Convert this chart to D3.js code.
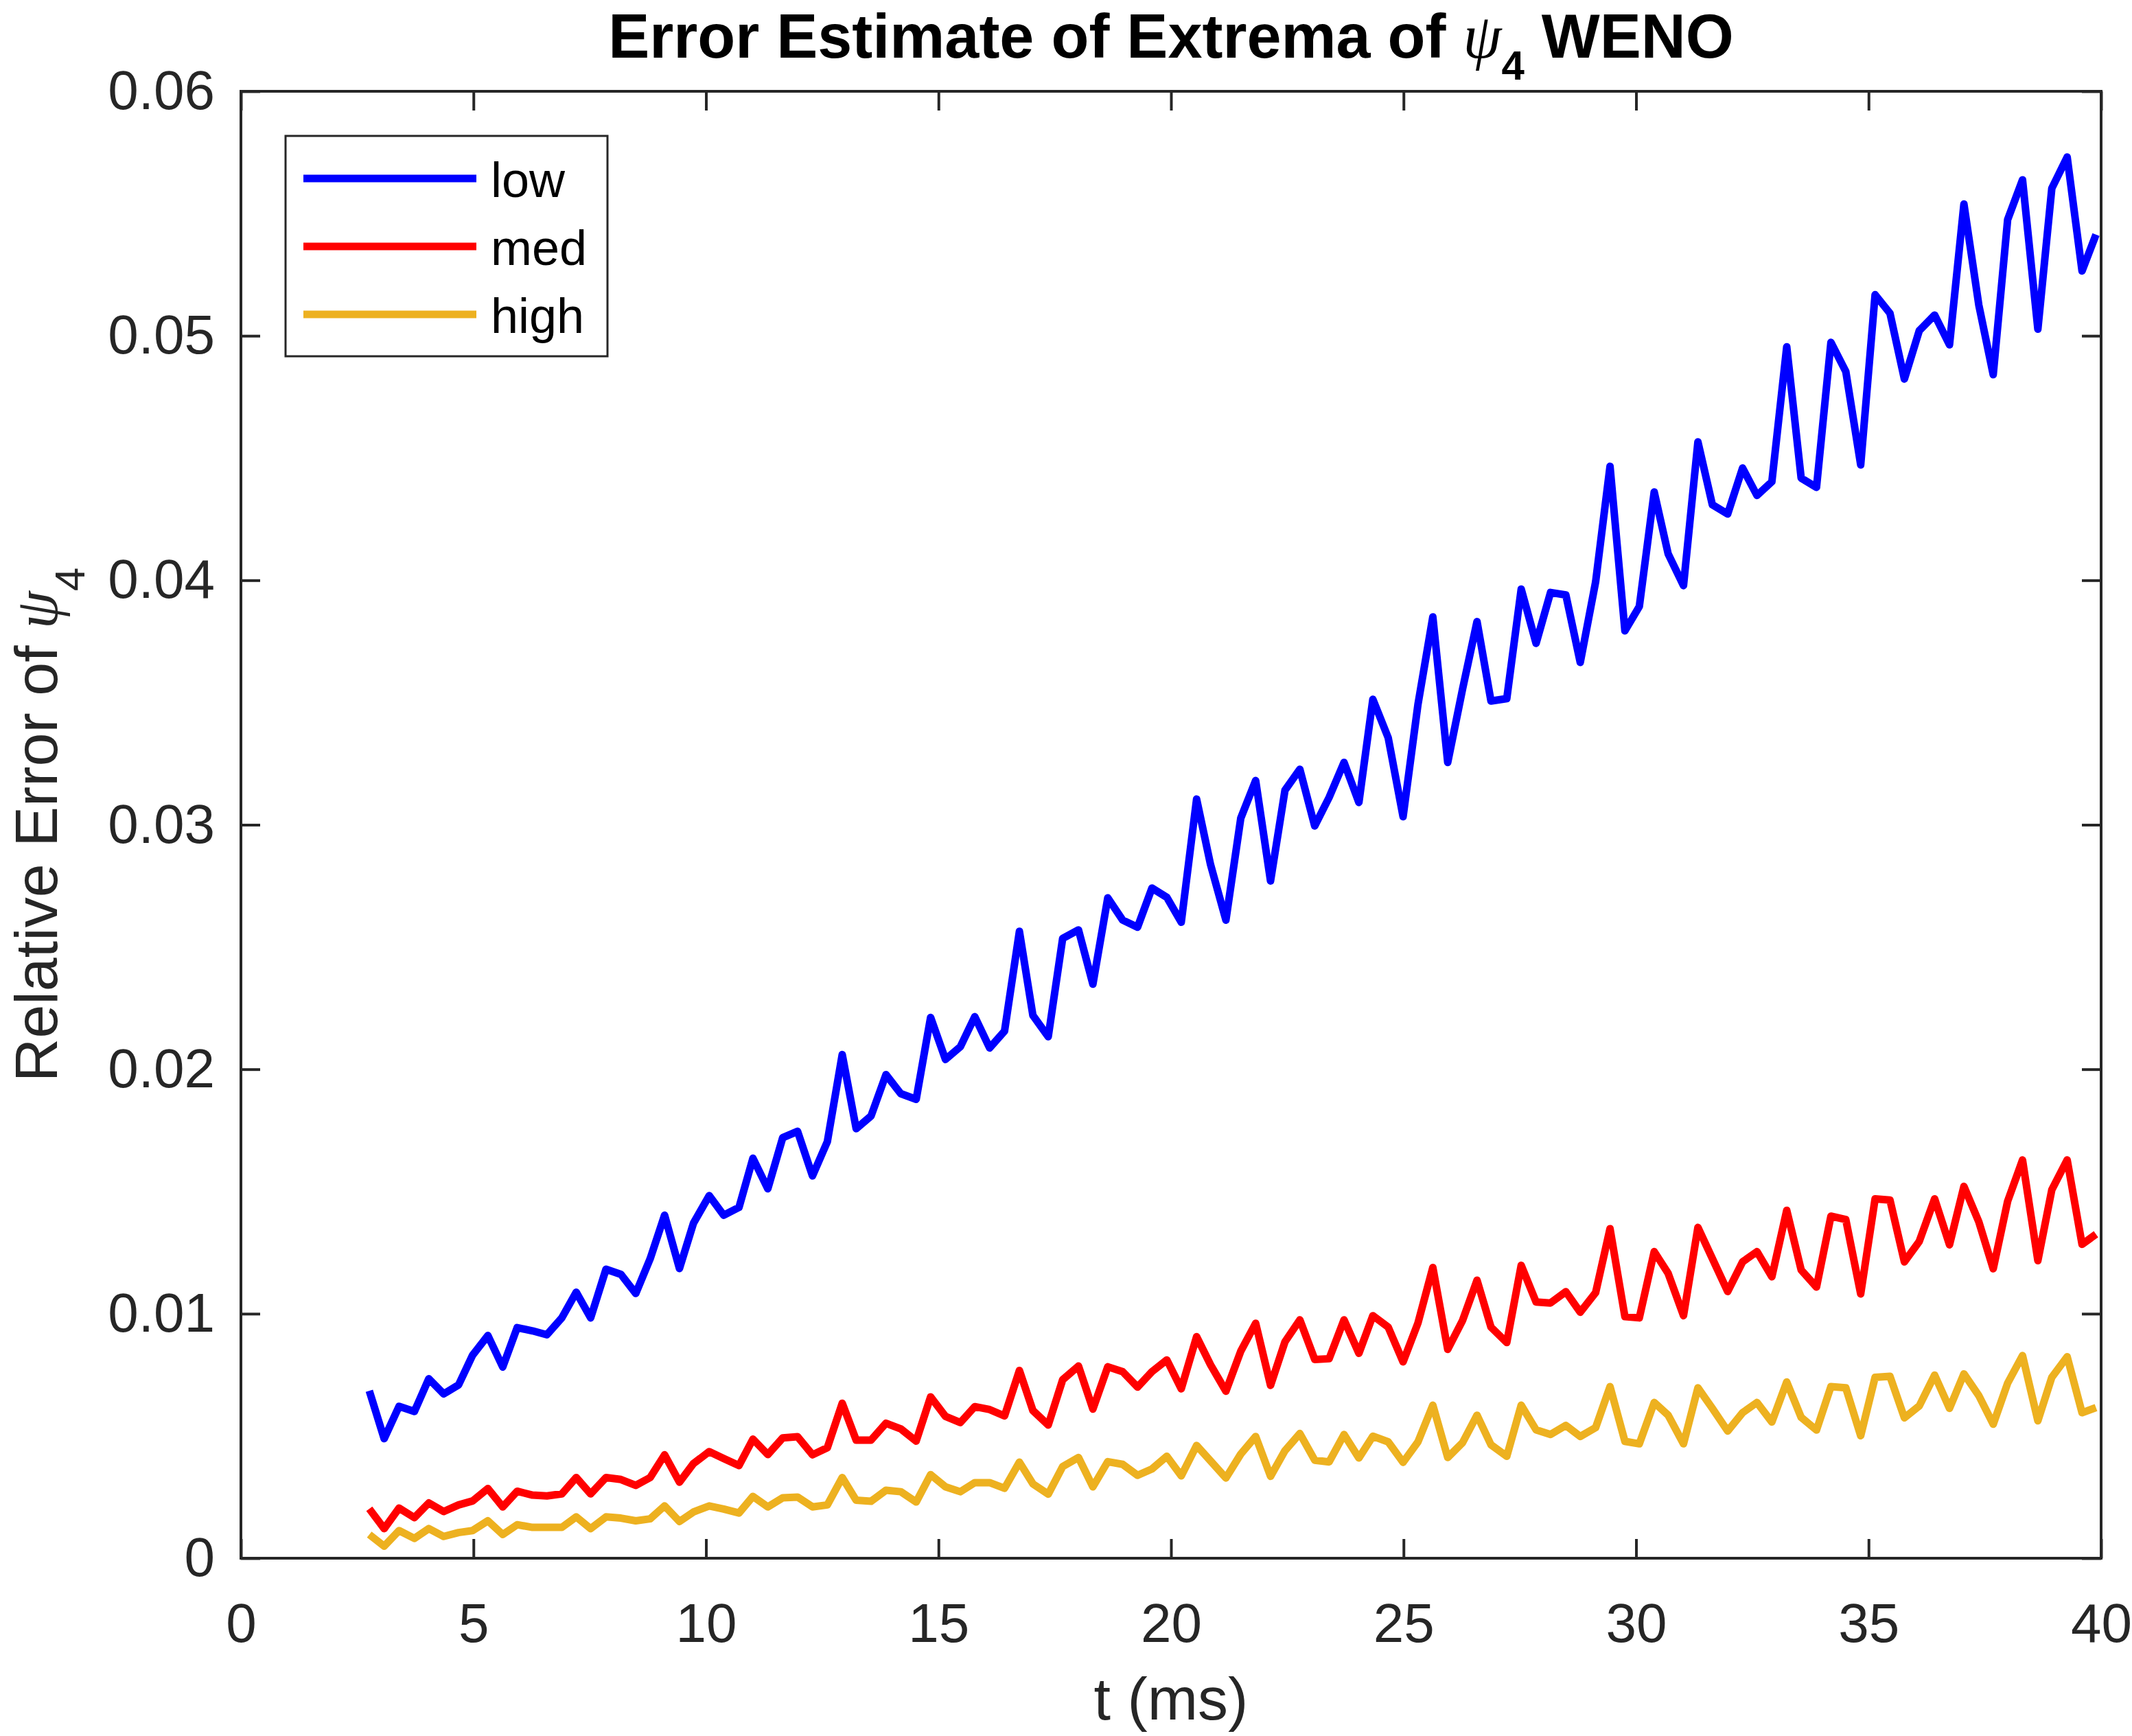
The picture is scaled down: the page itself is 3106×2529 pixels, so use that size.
<!DOCTYPE html>
<html>
<head>
<meta charset="utf-8">
<script src="https://cdn.jsdelivr.net/npm/d3@7"></script>
<style>
  body { margin: 0; background: #fff; }
  text { font-family: "Liberation Sans", Arial, sans-serif; }
</style>
</head>
<body>
<div id="chart"></div>
<script>

// sample times (ms)
const timeMs = [
  2.76, 3.08, 3.40, 3.73, 4.04, 4.36, 4.68, 4.98, 5.31, 5.63,
  5.94, 6.27, 6.58, 6.90, 7.21, 7.52, 7.85, 8.17, 8.49, 8.80,
  9.11, 9.43, 9.73, 10.07, 10.38, 10.71, 11.01, 11.33, 11.65, 11.97,
  12.29, 12.61, 12.93, 13.23, 13.55, 13.87, 14.19, 14.52, 14.83, 15.15,
  15.47, 15.78, 16.10, 16.42, 16.74, 17.03, 17.36, 17.67, 18.01, 18.32,
  18.64, 18.96, 19.28, 19.59, 19.91, 20.22, 20.55, 20.85, 21.18, 21.50,
  21.82, 22.14, 22.45, 22.77, 23.09, 23.40, 23.72, 24.04, 24.34, 24.67,
  24.99, 25.31, 25.63, 25.95, 26.27, 26.58, 26.88, 27.22, 27.53, 27.85,
  28.16, 28.49, 28.80, 29.13, 29.44, 29.76, 30.07, 30.39, 30.69, 31.02,
  31.33, 31.64, 31.97, 32.29, 32.60, 32.92, 33.24, 33.55, 33.88, 34.19,
  34.51, 34.83, 35.14, 35.46, 35.77, 36.09, 36.42, 36.74, 37.05, 37.37,
  37.68, 37.99, 38.31, 38.64, 38.94, 39.27, 39.59, 39.89
];

// relative errors, in units of 1e-3
const lowErr = [
  6.85, 4.89, 6.21, 6.00, 7.34, 6.72, 7.09, 8.30, 9.11, 7.82,
  9.43, 9.30, 9.14, 9.83, 10.88, 9.83, 11.82, 11.61, 10.83, 12.25,
  14.03, 11.85, 13.70, 14.83, 14.03, 14.35, 16.36, 15.11, 17.20, 17.46,
  15.64, 17.04, 20.60, 17.57, 18.09, 19.78, 19.00, 18.77, 22.12, 20.40,
  20.92, 22.15, 20.87, 21.56, 25.64, 22.20, 21.33, 25.35, 25.70, 23.48,
  27.01, 26.10, 25.81, 27.41, 27.03, 26.01, 31.05, 28.37, 26.10, 30.27,
  31.81, 27.70, 31.41, 32.27, 29.95, 31.12, 32.55, 30.91, 35.13, 33.56,
  30.33, 34.92, 38.50, 32.55, 35.56, 38.31, 35.06, 35.16, 39.64, 37.42,
  39.50, 39.40, 36.64, 39.93, 44.66, 37.93, 38.93, 43.61, 41.08, 39.78,
  45.66, 43.09, 42.71, 44.59, 43.47, 44.03, 49.55, 44.18, 43.80, 49.73,
  48.54, 44.72, 51.68, 50.92, 48.23, 50.21, 50.85, 49.63, 55.39, 51.26,
  48.41, 54.75, 56.38, 50.27, 56.03, 57.31, 52.65, 54.14
];

const medErr = [
  2.02, 1.21, 2.05, 1.66, 2.26, 1.91, 2.18, 2.34, 2.85, 2.10,
  2.74, 2.58, 2.55, 2.63, 3.30, 2.63, 3.30, 3.22, 2.98, 3.30,
  4.23, 3.11, 3.87, 4.36, 4.08, 3.79, 4.87, 4.24, 4.92, 4.97,
  4.23, 4.52, 6.34, 4.83, 4.83, 5.52, 5.29, 4.79, 6.60, 5.80,
  5.55, 6.20, 6.08, 5.82, 7.68, 6.04, 5.45, 7.30, 7.86, 6.10,
  7.83, 7.63, 7.00, 7.63, 8.11, 6.93, 9.06, 7.91, 6.83, 8.47,
  9.61, 7.07, 8.85, 9.75, 8.13, 8.16, 9.75, 8.38, 9.92, 9.45,
  8.03, 9.62, 11.89, 8.54, 9.73, 11.37, 9.45, 8.82, 11.98, 10.48,
  10.44, 10.90, 10.06, 10.86, 13.48, 9.88, 9.83, 12.54, 11.65, 9.92,
  13.53, 12.26, 10.91, 12.12, 12.54, 11.51, 14.23, 11.79, 11.09, 13.99,
  13.85, 10.81, 14.70, 14.65, 12.12, 12.96, 14.70, 12.82, 15.21, 13.76,
  11.84, 14.60, 16.29, 12.17, 15.07, 16.29, 12.84, 13.25
];

const highErr = [
  0.97, 0.49, 1.13, 0.81, 1.21, 0.89, 1.05, 1.13, 1.53, 0.97,
  1.37, 1.26, 1.26, 1.26, 1.69, 1.21, 1.69, 1.64, 1.53, 1.61,
  2.14, 1.50, 1.89, 2.14, 2.01, 1.85, 2.53, 2.10, 2.47, 2.50,
  2.10, 2.18, 3.30, 2.37, 2.33, 2.78, 2.72, 2.30, 3.42, 2.92,
  2.72, 3.09, 3.09, 2.86, 3.93, 3.04, 2.62, 3.75, 4.12, 2.92,
  3.95, 3.84, 3.39, 3.65, 4.17, 3.37, 4.61, 3.98, 3.28, 4.26,
  4.98, 3.35, 4.40, 5.10, 4.01, 3.94, 5.06, 4.10, 4.99, 4.76,
  3.92, 4.76, 6.26, 4.12, 4.73, 5.85, 4.64, 4.17, 6.26, 5.25,
  5.06, 5.43, 4.98, 5.34, 7.02, 4.78, 4.68, 6.37, 5.85, 4.68,
  6.97, 6.13, 5.20, 5.95, 6.37, 5.57, 7.21, 5.76, 5.24, 7.02,
  6.97, 5.01, 7.40, 7.44, 5.74, 6.23, 7.49, 6.13, 7.54, 6.65,
  5.48, 7.16, 8.29, 5.62, 7.40, 8.24, 5.95, 6.16
];

const seriesNames = ["low", "med", "high"];
const xTicks = [0, 5, 10, 15, 20, 25, 30, 35, 40];
const yTicks = [0, 0.01, 0.02, 0.03, 0.04, 0.05, 0.06];
const yTickLabels = ["0", "0.01", "0.02", "0.03", "0.04", "0.05", "0.06"];

const series = [
  {name: "low", values: lowErr, color: "#0000ff"},
  {name: "med", values: medErr, color: "#ff0000"},
  {name: "high", values: highErr, color: "#edb120"}
];

// canvas and plot box
const width = 3106, height = 2529;
const margin = {top: 133, right: 45, bottom: 259, left: 351};
const axisColor = "#262626";

const svg = d3.select("#chart")
  .append("svg")
  .attr("width", width)
  .attr("height", height);

const x = d3.scaleLinear()
  .domain([0, 40])
  .range([margin.left, width - margin.right]);

const y = d3.scaleLinear()
  .domain([0, 0.06])
  .range([height - margin.bottom, margin.top]);

// data lines
const line = d3.line()
  .x((d, i) => x(timeMs[i]))
  .y(d => y(d * 1e-3));

svg.append("g")
  .selectAll("path")
  .data(series)
  .join("path")
  .attr("d", d => line(d.values))
  .attr("fill", "none")
  .attr("stroke", d => d.color)
  .attr("stroke-width", 11)
  .attr("stroke-linejoin", "round");

// axes: ticks point inward on all four sides
const tickLen = 28;

function styleAxis(g) {
  g.select(".domain").remove();
  g.selectAll("line").attr("stroke", axisColor).attr("stroke-width", 4);
  g.selectAll("text")
    .style("fill", axisColor)
    .style("font-size", "80px")
    .style("font-family", "'Liberation Sans', Arial, sans-serif");
}

svg.append("g")
  .attr("transform", `translate(0,${height - margin.bottom})`)
  .call(d3.axisBottom(x).tickValues(xTicks).tickSize(-tickLen).tickPadding(65).tickFormat(d3.format("d")))
  .call(styleAxis);

svg.append("g")
  .attr("transform", `translate(0,${margin.top})`)
  .call(d3.axisTop(x).tickValues(xTicks).tickSize(-tickLen).tickFormat(""))
  .call(styleAxis);

svg.append("g")
  .attr("transform", `translate(${margin.left},0)`)
  .call(d3.axisLeft(y).tickValues(yTicks).tickSize(-tickLen).tickPadding(38)
    .tickFormat((d, i) => yTickLabels[i]))
  .call(styleAxis);

svg.append("g")
  .attr("transform", `translate(${width - margin.right},0)`)
  .call(d3.axisRight(y).tickValues(yTicks).tickSize(-tickLen).tickFormat(""))
  .call(styleAxis);

// box
svg.append("rect")
  .attr("x", margin.left)
  .attr("y", margin.top)
  .attr("width", width - margin.left - margin.right)
  .attr("height", height - margin.top - margin.bottom)
  .attr("fill", "none")
  .attr("stroke", axisColor)
  .attr("stroke-width", 4);

// legend
const legendRow = d3.scalePoint().domain(seriesNames).range([260, 458]);

const legend = svg.append("g");
legend.append("rect")
  .attr("x", 416).attr("y", 198)
  .attr("width", 469).attr("height", 321)
  .attr("fill", "#fff")
  .attr("stroke", axisColor)
  .attr("stroke-width", 3);

const item = legend.selectAll("g.item")
  .data(series)
  .join("g")
  .attr("class", "item")
  .attr("transform", d => `translate(0,${legendRow(d.name)})`);

item.append("line")
  .attr("x1", 442).attr("x2", 694)
  .attr("stroke", d => d.color)
  .attr("stroke-width", 11);

item.append("text")
  .attr("x", 715)
  .attr("y", 27)
  .style("fill", "#000")
  .style("font-size", "72px")
  .text(d => d.name);

// title (kept a little below the page edge so nothing gets clipped)
const title = svg.append("text")
  .attr("x", (margin.left + width - margin.right) / 2)
  .attr("y", 84)
  .attr("text-anchor", "middle")
  .style("fill", "#000")
  .style("font-size", "90px")
  .style("font-weight", "bold");
title.append("tspan").text("Error Estimate of Extrema of ");
title.append("tspan")
  .style("font-family", "'Liberation Serif', 'DejaVu Serif', serif")
  .style("font-style", "italic")
  .style("font-weight", "normal")
  .text("ψ");
title.append("tspan").attr("dy", 32).style("font-size", "60px").text("4");
title.append("tspan").attr("dy", -32).text(" WENO");

// x label
svg.append("text")
  .attr("x", (margin.left + width - margin.right) / 2)
  .attr("y", 2505)
  .attr("text-anchor", "middle")
  .style("fill", axisColor)
  .style("font-size", "88px")
  .text("t (ms)");

// y label
const ylab = svg.append("text")
  .attr("transform", `translate(83,${(margin.top + height - margin.bottom) / 2}) rotate(-90)`)
  .attr("text-anchor", "middle")
  .style("fill", axisColor)
  .style("font-size", "88px");
ylab.append("tspan").text("Relative Error of ");
ylab.append("tspan")
  .style("font-family", "'Liberation Serif', 'DejaVu Serif', serif")
  .style("font-style", "italic")
  .text("ψ");
ylab.append("tspan").attr("dy", 40).style("font-size", "62px").text("4");

</script>
</body>
</html>
